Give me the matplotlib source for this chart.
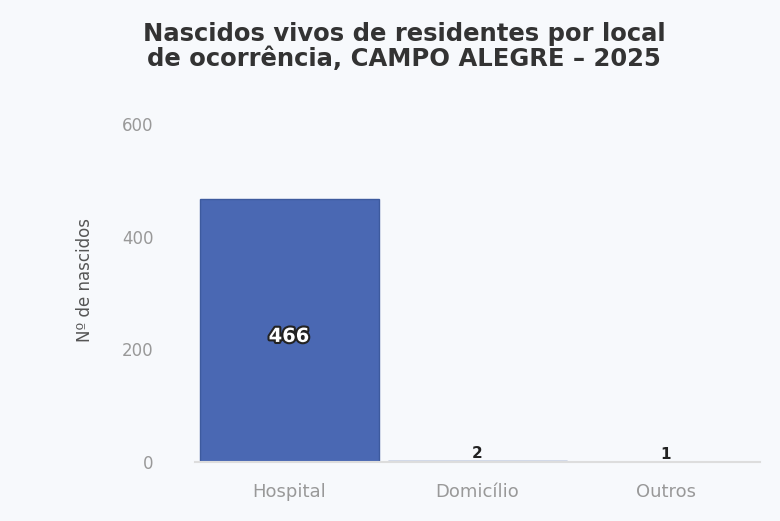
import matplotlib
matplotlib.use("Agg")
import matplotlib.pyplot as plt
import matplotlib.patheffects as pe

# data
locais = ["Hospital", "Domicílio", "Outros"]
nascidos = [466, 2, 1]
yticks = [0, 200, 400, 600]

bg = "#f7f9fc"
fig = plt.figure(figsize=(7.8, 5.21), dpi=100, facecolor=bg)
ax = fig.add_axes([0.25, 0.113, 0.724, 0.70], facecolor=bg)

xs = range(len(locais))
bars = ax.bar(xs, nascidos, width=0.95, color="#4a68b3", edgecolor="#3d5a9e", linewidth=1)

ax.set_xlim(-0.5, 2.5)
ax.set_ylim(0, 647)
ax.set_yticks(yticks)
ax.set_xticks(list(xs))
ax.set_xticklabels(locais)
ax.tick_params(axis="both", length=0, colors="#999999")
ax.tick_params(axis="y", pad=30, labelsize=12)
ax.tick_params(axis="x", pad=15, labelsize=13)
for s in ["top", "right", "left"]:
    ax.spines[s].set_visible(False)
ax.spines["bottom"].set_color("#dddddd")
ax.spines["bottom"].set_linewidth(1.5)

ax.set_ylabel("Nº de nascidos", color="#555555", fontsize=12, labelpad=20)

# value labels
big = nascidos[0]
ax.text(0, big / 2 - 10, str(big), ha="center", va="center", color="white",
        fontsize=14, fontweight="bold",
        path_effects=[pe.withStroke(linewidth=3, foreground="#222222")])
for i, v in enumerate(nascidos[1:], start=1):
    ax.text(i, v, str(v), ha="center", va="bottom", color="#222222",
            fontsize=11, fontweight="bold")

fig.suptitle("Nascidos vivos de residentes por local\nde ocorrência, CAMPO ALEGRE – 2025",
             x=0.518, y=0.958, fontsize=17.5, fontweight="bold", color="#333333",
             linespacing=1.02)

fig.savefig("out.png", dpi=100, facecolor=bg)
